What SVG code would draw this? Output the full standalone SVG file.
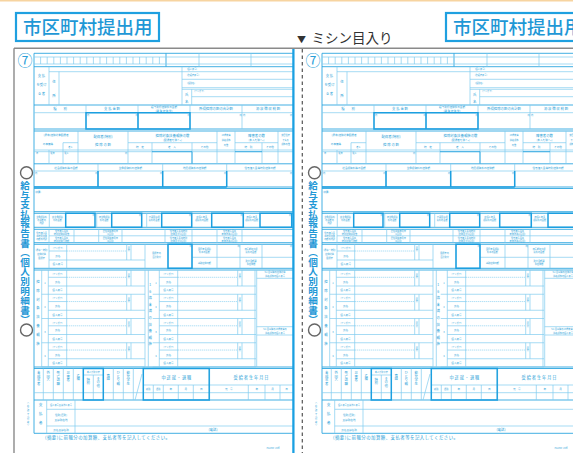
<svg xmlns="http://www.w3.org/2000/svg" width="573" height="453" viewBox="0 0 573 453">
<style>
.t{fill:none;stroke:#7fcbef;stroke-width:.7}
.m{fill:none;stroke:#2ea6e0;stroke-width:.9}
.b{fill:none;stroke:#1c9fe0;stroke-width:1.5}
.d{fill:none;stroke:#6cc4ec;stroke-width:.6;stroke-dasharray:1.2 .8}
.l{font-family:"Noto Sans CJK JP","Noto Sans CJK SC",sans-serif;fill:#2b9fd8;font-size:3.4px;text-anchor:middle}
.s{font-size:2.6px}
.x{font-size:2.2px}
.v{writing-mode:vertical-rl;text-anchor:start}
.u{text-orientation:upright}
.ttl{font-family:"Noto Sans CJK JP","Noto Sans CJK SC",sans-serif;fill:#1f98d6;font-size:18.5px;font-weight:500}
</style>
<defs>
<g id="blk">
<path class="t" d="M41.7 24.25H145M48.3 7.3H66.7M48.3 16H145M48.3 0V24.25M66.7 0V24.25M126.7 0V16M131 0V16"/>
<path class="d" d="M66.7 7.3H126.7"/>
<text class="l x" x="57.5" y="5">(フリガナ)</text>
<text class="l s" x="57.5" y="12.8">氏名</text>
<text class="l s" x="57.5" y="21.3">個人番号</text>
<text class="l x v" x="128.85" y="4">区分</text>
</g>
<g id="form">
<text class="l" x="25" y="65.6" style="font-size:15px">⑦</text>
<circle cx="26.5" cy="172.7" r="6" fill="none" stroke="#666" stroke-width="1.4"/>
<circle cx="26.5" cy="330" r="6" fill="none" stroke="#666" stroke-width="1.4"/>
<text class="l v" x="25" y="180.5" style="font-size:9.6px;font-weight:bold;fill:#1f98d6">給与支払報告書（個人別明細書）</text>
<!-- main rules -->
<path class="m" d="M34 53.3H293M34 66.7H293M34 105H293M34 129H293M34 131H293M34 163.8H293M34 187H293M34 188.5H293M34 211.7H293M34 213.3H293M34 227.3H293M34 229.3H293M34 242.7H293M34 244.3H293M34 268.3H293M34 270H293M34 367H293M34 368.5H293M34 400H293M34 433.3H293M34 53.3V433.3M166 53.3V66.7"/>
<!-- section A -->
<path class="t" d="M34 57H293M34 64H293M49 71.7H293M182 79.3H293M182 87.7H293M182 89.3H293M191.7 96.7H293M49 66.7V105M59 71.7V105M182 66.7V105M191.7 89.3V105M199 53.3V66.7M251 53.3V66.7M40.6 57V64M47.2 57V64M53.8 57V64M60.4 57V64M67 57V64M73.6 57V64M80.2 57V64M86.8 57V64M93.4 57V64M100 57V64M106.6 57V64M113.2 57V64M119.8 57V64M126.4 57V64M133 57V64M139.6 57V64M146.2 57V64M152.8 57V64M159.4 57V64"/>
<text class="l" x="41.5" y="77">支 払</text>
<text class="l" x="41.5" y="86">を受け</text>
<text class="l" x="41.5" y="95">る 者</text>
<text class="l" x="54" y="83">住</text>
<text class="l" x="54" y="97">所</text>
<text class="l x" x="192" y="70.2">(個人番号)</text>
<text class="l x" x="193" y="76.3">(受給者番号)</text>
<text class="l x" x="191" y="84.3">(役職名)</text>
<text class="l x" x="199" y="92.2">(フリガナ)</text>
<text class="l" x="186.8" y="95.5">氏</text>
<text class="l" x="186.8" y="102.5">名</text>
<!-- section B -->
<path class="t" d="M34 112.7H293M86 105V129M138 105V129M190 105V129M242 105V129"/>
<path class="b" d="M86 112.7H190V129H86ZM138 112.7V129"/>
<text class="l" x="60" y="110.3">種　　別</text>
<text class="l" x="112" y="110.3">支 払 金 額</text>
<text class="l s" x="164" y="108.3">給与所得控除後の金額</text>
<text class="l s" x="164" y="111.6">(調 整 控 除 後)</text>
<text class="l" x="216" y="110.3">所得控除の額の合計額</text>
<text class="l" x="268" y="110.3">源 泉 徴 収 税 額</text>
<text class="l x" x="88" y="116">内</text><text class="l x" x="136.5" y="116">円</text><text class="l x" x="188.5" y="116">円</text><text class="l x" x="240.5" y="116">円</text><text class="l x" x="244" y="116">内</text><text class="l x" x="291" y="116">円</text>
<!-- section C -->
<path class="t" d="M34 150H293M78 131V163.8M128 131V163.8M217 131V163.8M235 131V163.8M278 131V163.8M128 142.7H217M235 142.7H278M152 142.7V163.8M192 142.7V163.8M262 142.7V163.8M63 142.7H78M63 142.7V163.8M49 150V163.8M34 151.7H293"/>
<path class="m" d="M152 151.7H192V163.8M235 151.7H262"/>
<text class="l s" x="56" y="136">(源泉)控除対象配偶者</text>
<text class="l s" x="48" y="145">の有無等</text>
<text class="l x" x="70.5" y="147.8">老人</text>
<text class="l" x="103" y="138">配偶者(特別)</text>
<text class="l" x="103" y="145.5">控 除 の 額</text>
<text class="l" x="172.5" y="136.5">控除対象扶養親族の数</text>
<text class="l s" x="172.5" y="140.8">(配偶者を除く。)</text>
<text class="l s" x="140" y="148">特　定</text>
<text class="l s" x="172" y="148">老　人</text>
<text class="l s" x="204.5" y="148">その他</text>
<text class="l x" x="226" y="136">16歳未満</text>
<text class="l x" x="226" y="140.5">扶養親族</text>
<text class="l x" x="226" y="146">の数</text>
<text class="l" x="256.5" y="136.5">障害者の数</text>
<text class="l s" x="256.5" y="140.8">(本人を除く。)</text>
<text class="l s" x="248.5" y="148">特　別</text>
<text class="l s" x="270" y="148">その他</text>
<text class="l x" x="285.5" y="136">非居住者</text>
<text class="l x" x="285.5" y="140.5">である</text>
<text class="l x" x="285.5" y="145">親族の数</text>
<text class="l x" x="37" y="154.3">有</text><text class="l x" x="52.5" y="154.3">従有</text><text class="l x" x="66.5" y="154.3">従人</text><text class="l x" x="126" y="154.3">円</text>
<!-- section D -->
<path class="t" d="M34 171H293M98 163.8V187M162.7 163.8V187M226.7 163.8V187"/>
<path class="b" d="M98 171V187M162.7 171V187M226.7 171V187M34 187H226.7"/>
<text class="l s" x="66" y="169.3">社会保険料等の金額</text>
<text class="l s" x="130.3" y="169.3">生命保険料の控除額</text>
<text class="l s" x="194.7" y="169.3">地震保険料の控除額</text>
<text class="l s" x="260" y="169.3">住宅借入金等特別控除の額</text>
<text class="l x" x="36" y="174">内</text><text class="l x" x="96.3" y="174">円</text><text class="l x" x="161" y="174">円</text><text class="l x" x="225" y="174">円</text><text class="l x" x="291" y="174">円</text>
<text class="l x" x="38" y="192.5">(摘要)</text>
<!-- section E -->
<path class="t" d="M49.3 213.3V227.3M96.7 213.3V227.3M146.7 213.3V227.3M191.7 213.3V227.3M243.3 213.3V227.3"/>
<path class="b" d="M65.7 213.3h29.3v14h-29.3zM111.7 213.3h30v14h-30zM161.7 213.3h30v14h-30zM211.7 213.3h31.6v14h-31.6zM260 213.3h31.7v14h-31.7z"/>
<text class="l x" x="41.6" y="218">生命保険料</text><text class="l x" x="41.6" y="221">の金額の</text><text class="l x" x="41.6" y="224">内訳</text>
<text class="l x" x="57.5" y="218">新生命保険</text><text class="l x" x="57.5" y="221">料の金額</text>
<text class="l x" x="104.2" y="218">旧生命保険</text><text class="l x" x="104.2" y="221">料の金額</text>
<text class="l x" x="154.2" y="218">介護医療保</text><text class="l x" x="154.2" y="221">険料の金額</text>
<text class="l x" x="201.7" y="218">新個人年金</text><text class="l x" x="201.7" y="221">保険料の金額</text>
<text class="l x" x="251.7" y="218">旧個人年金</text><text class="l x" x="251.7" y="221">保険料の金額</text>
<text class="l x" x="93.5" y="216">円</text><text class="l x" x="140" y="216">円</text><text class="l x" x="190" y="216">円</text><text class="l x" x="241.6" y="216">円</text><text class="l x" x="290" y="216">円</text>
<!-- section F -->
<path class="t" d="M49 235.8H293M49 229.3V242.7M74 229.3V242.7M98.7 229.3V242.7M122 229.3V242.7M165 229.3V242.7M192 229.3V242.7M217 229.3V242.7M242 229.3V242.7"/>
<text class="l x" x="41.6" y="233.5">住宅借入金</text><text class="l x" x="41.6" y="236.5">等特別控除</text><text class="l x" x="41.6" y="239.5">の額の内訳</text>
<text class="l x" x="61.5" y="232.4">住宅借入金等</text><text class="l x" x="61.5" y="235">特別控除適用数</text>
<text class="l x" x="61.5" y="238.9">住宅借入金等</text><text class="l x" x="61.5" y="241.5">特別控除可能額</text>
<text class="l x" x="110.3" y="232.4">居住開始年月日</text><text class="l x" x="110.3" y="235">(1回目)</text>
<text class="l x" x="110.3" y="238.9">居住開始年月日</text><text class="l x" x="110.3" y="241.5">(2回目)</text>
<text class="l x" x="178.5" y="232.4">住宅借入金等特別</text><text class="l x" x="178.5" y="235">控除区分(1回目)</text>
<text class="l x" x="178.5" y="238.9">住宅借入金等特別</text><text class="l x" x="178.5" y="241.5">控除区分(2回目)</text>
<text class="l x" x="229.5" y="232.4">住宅借入金等</text><text class="l x" x="229.5" y="235">年末残高(1回目)</text>
<text class="l x" x="229.5" y="238.9">住宅借入金等</text><text class="l x" x="229.5" y="241.5">年末残高(2回目)</text>
<!-- section G -->
<path class="t" d="M49 251H66.7M49 260H145M49 244.3V268.3M66.7 244.3V268.3M126.7 244.3V260M131 244.3V260M145 244.3V268.3M168 244.3V268.3M192 244.3V268.3M217 244.3V268.3M240 244.3V268.3M262 244.3V268.3M192 257.3H293"/>
<path class="d" d="M66.7 251H126.7"/>
<path class="b" d="M168 244.3h24v24h-24z"/>
<text class="l x" x="41.6" y="251">(源泉・特別)</text><text class="l x" x="41.6" y="255">控除対象</text><text class="l x" x="41.6" y="259">配偶者</text>
<text class="l x" x="57.8" y="248.5">(フリガナ)</text>
<text class="l s" x="57.8" y="256.5">氏名</text>
<text class="l s" x="57.8" y="265.2">個人番号</text>
<text class="l x v" x="128.85" y="247">区分</text>
<text class="l x" x="156.5" y="254">配偶者の</text><text class="l x" x="156.5" y="258">合計所得</text>
<text class="l x" x="204.5" y="249.5">国民年金保険</text><text class="l x" x="204.5" y="253">料等の金額</text>
<text class="l x" x="204.5" y="263.6">基礎控除の額</text>
<text class="l x" x="251" y="249.5">旧長期損害保</text><text class="l x" x="251" y="253">険料の金額</text>
<text class="l x" x="251" y="261.8">所得金額調</text><text class="l x" x="251" y="265">整控除額</text>
<text class="l x" x="190.5" y="247">円</text><text class="l x" x="238.5" y="247">円</text><text class="l x" x="291" y="247">円</text>
<!-- section H -->
<path class="t" d="M41.7 270V367M145 270V367M148.3 270V367M255 270V367M256.7 270V367M256.7 278.3H293M256.7 326.7H293M256.7 335H293"/>
<use href="#blk" y="270"/><use href="#blk" y="294.25"/><use href="#blk" y="318.5"/><use href="#blk" y="342.75"/>
<use href="#blk" x="111" y="270"/><use href="#blk" x="111" y="294.25"/><use href="#blk" x="111" y="318.5"/><use href="#blk" x="111" y="342.75"/>
<text class="l s" x="45" y="284">1</text><text class="l s" x="45" y="308.2">2</text><text class="l s" x="45" y="332.5">3</text><text class="l s" x="45" y="356.7">4</text>
<text class="l s" x="156" y="284">1</text><text class="l s" x="156" y="308.2">2</text><text class="l s" x="156" y="332.5">3</text><text class="l s" x="156" y="356.7">4</text>
<text class="l v" x="37.9" y="280" style="letter-spacing:5.4px">控除対象扶養親族</text>
<text class="l v u" x="150.3" y="283" style="letter-spacing:3.2px">16歳未満の扶養親族</text>
<text class="l x" x="275" y="273.3">5人目以降の控除対象</text><text class="l x" x="275" y="276.8">扶養親族の個人番号</text>
<text class="l x" x="275" y="330">5人目以降の16歳未満の</text><text class="l x" x="275" y="333.6">扶養親族の個人番号</text>
<!-- bottom table -->
<path class="t" d="M34 392.7H293M143.3 385H293M83.3 375H103.3M43.3 368.5V400M53.3 368.5V400M63.3 368.5V400M73.3 368.5V400M93.3 375V400M113.3 368.5V400M123.3 368.5V400M133.3 368.5V400M153.3 385V400M163.3 385V400M178.3 385V400M193.3 385V400M248.3 385V400M265 385V400M280 385V400M135 400L142 374"/>
<path class="b" d="M83.3 368.5h20v31.5h-20zM143.3 368.5h66v31.5h-66z"/>
<path class="m" d="M209.3 368.5V400"/>
<text class="l v" x="38.7" y="371.5">未成年者</text>
<text class="l v" x="48.3" y="371.5">外国人</text>
<text class="l v" x="58.3" y="371.5">死亡退職</text>
<text class="l v" x="68.3" y="371.5">災害者</text>
<text class="l v" x="78.3" y="374">乙欄</text>
<text class="l x" x="93.3" y="373.3">本人が障害者</text>
<text class="l v" x="88.3" y="378">特別</text>
<text class="l v" x="98.3" y="377">その他</text>
<text class="l v" x="108.3" y="374">寡婦</text>
<text class="l v" x="118.3" y="371.5">ひとり親</text>
<text class="l v" x="128.3" y="371.5">勤労学生</text>
<text class="l" x="176.3" y="378.5" style="font-size:4.2px">中 途 就 ・ 退 職</text>
<text class="l" x="251" y="378.5" style="font-size:4.2px">受 給 者 生 年 月 日</text>
<text class="l x" x="148.3" y="390">就職</text><text class="l x" x="158.3" y="390">退職</text><text class="l s" x="170.8" y="390">年</text><text class="l s" x="185.8" y="390">月</text><text class="l s" x="201.3" y="390">日</text>
<text class="l s" x="228.8" y="390">元　号</text><text class="l s" x="256.7" y="390">年</text><text class="l s" x="272.5" y="390">月</text><text class="l s" x="286.5" y="390">日</text>
<!-- payer -->
<path class="t" d="M46.7 409.3H293M46.7 426H293M46.7 400V433.3M75 400V433.3"/>
<text class="l v" x="40.7" y="403" style="letter-spacing:5px;font-size:3.8px">支払者</text>
<text class="l v x" x="28" y="401" style="letter-spacing:1.8px">（右詰で記載）</text>
<text class="l x" x="61" y="405.6">個人番号又は法人番号</text>
<text class="l s" x="61" y="416">住所(居所)</text>
<text class="l s" x="61" y="420.5">又は所在地</text>
<text class="l s" x="61" y="430.6">氏名又は名称</text>
<text class="l" x="213" y="431">(電話)</text>
<text class="l" x="45" y="438.7" style="text-anchor:start;font-size:4.4px" textLength="125" lengthAdjust="spacing">(摘要)に前職分の加算額、支払者等を記入してください。</text>
<text class="l x" x="273" y="448.5">PA1053 '16版</text>
<path d="M293.4 48V453" fill="none" stroke="#1aa0e2" stroke-width="2.3"/>
</g>
</defs>
<rect width="573" height="453" fill="#fff"/>
<rect width="573" height="1.5" fill="#f7d4a0"/>
<g id="sheet-left"><use href="#form"/></g>
<g id="sheet-right"><use href="#form" x="288"/></g>
<path d="M14 48.3H573M14 48.3V453" fill="none" stroke="#8a8a8a" stroke-width="1.4"/>
<path d="M302.3 49V453" fill="none" stroke="#555" stroke-width="1.2" stroke-dasharray="3.5 3"/>
<g id="title-left">
<rect x="16" y="13" width="143" height="28" fill="#fff" stroke="#1fa0e0" stroke-width="2.2"/>
<text class="ttl" x="23" y="34.3">市区町村提出用</text>
</g>
<g id="title-right">
<rect x="446" y="13" width="143" height="28" fill="#fff" stroke="#1fa0e0" stroke-width="2.2"/>
<text class="ttl" x="453" y="34.3">市区町村提出用</text>
</g>
<text x="297" y="42.5" font-family="'Noto Sans CJK JP','Noto Sans CJK SC',sans-serif" fill="#333" font-size="13.5"><tspan font-size="9">▼</tspan><tspan x="311.5">ミシン目入り</tspan></text>
</svg>
